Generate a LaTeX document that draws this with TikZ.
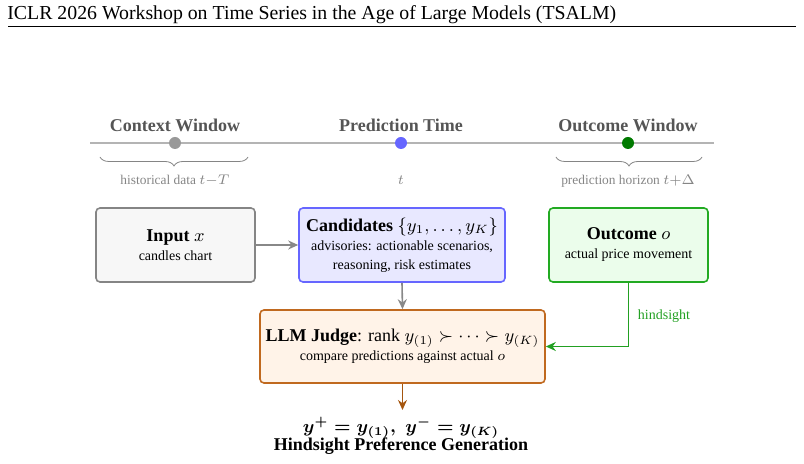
\documentclass[tikz,border=0pt]{standalone}
\usepackage{fontspec}
\setmainfont{Liberation Serif}
\usetikzlibrary{arrows.meta,decorations.pathreplacing,calc}
\definecolor{tlgray}{HTML}{B4B4B4}
\definecolor{lblgray}{HTML}{555555}
\definecolor{smgray}{HTML}{858585}
\definecolor{dotgray}{HTML}{999999}
\definecolor{dotblue}{HTML}{6666FF}
\definecolor{dotgreen}{HTML}{007A00}
\definecolor{inpfill}{HTML}{F7F7F7}
\definecolor{inpdraw}{HTML}{858585}
\definecolor{candfill}{HTML}{E8E8FF}
\definecolor{canddraw}{HTML}{6666FF}
\definecolor{outfill}{HTML}{EBFDEB}
\definecolor{outdraw}{HTML}{22AA22}
\definecolor{judfill}{HTML}{FFF3E8}
\definecolor{juddraw}{HTML}{C0691F}
\definecolor{arrgray}{HTML}{888888}
\definecolor{arrgreen}{HTML}{22A022}
\definecolor{arrbrown}{HTML}{A5560F}
\newcommand{\mytitle}{\fontsize{9}{11}\selectfont\bfseries}
\newcommand{\mybig}{\fontsize{9}{11}\selectfont}
\newcommand{\resmath}{{\boldmath$y^{+}=y_{(1)},\;y^{-}=y_{(K)}$}}
\begin{document}
\begin{tikzpicture}[x=0.5pt,y=-0.5pt,
  box/.style={draw, rounded corners=2pt, line width=0.8pt, align=center,
    inner sep=2pt, font=\fontsize{7}{9.5}\selectfont},
  tllabel/.style={anchor=base, font=\fontsize{9}{11}\selectfont\bfseries, text=lblgray},
  smlabel/.style={anchor=base, font=\fontsize{6.7}{8.5}\selectfont, text=smgray},
  dot/.style={circle, inner sep=0pt, minimum size=6pt},
  brc/.style={draw=smgray, line width=0.4pt, decorate, decoration={brace, mirror, amplitude=4.5pt}},
  arr/.style={line width=0.8pt, -{Stealth[length=5pt,width=4.5pt]}}
]
\useasboundingbox (0,0) rectangle (804,464);

% header
\node[anchor=base west, inner sep=0pt, font=\fontsize{9.9}{12}\selectfont] (hdr) at (7,20)
  {ICLR 2026 Workshop on Time Series in the Age of Large Models (TSALM)};
\coordinate (rl) at (8,27);
\coordinate (rr) at (796,27);
\draw[line width=0.5pt] (rl) -- (rr);

% timeline
\coordinate (tl0) at (90,143);
\coordinate (tl1) at (714,143);
\draw[tlgray, line width=1.4pt] (tl0) -- (tl1);
\node[dot, fill=dotgray] (d1) at (175,143) {};
\node[dot, fill=dotblue] (d2) at (401,143) {};
\node[dot, fill=dotgreen] (d3) at (628,143) {};
\node[tllabel] (l1) at (175,132) {Context Window};
\node[tllabel] (l2) at (401,132) {Prediction Time};
\node[tllabel] (l3) at (628,132) {Outcome Window};
\coordinate (b1a) at (100,157);
\coordinate (b1b) at (248,157);
\coordinate (b3a) at (556,157);
\coordinate (b3b) at (702,157);
\draw[brc] (b1a) -- (b1b);
\draw[brc] (b3a) -- (b3b);
\node[smlabel] (s1) at (175,185) {historical data $t{-}T$};
\node[smlabel] (s2) at (401,185) {$t$};
\node[smlabel] (s3) at (628,185) {prediction horizon $t{+}\Delta$};

% boxes
\node[box, fill=inpfill, draw=inpdraw, minimum width=79.5pt, minimum height=37pt] (inp) at (175.5,245)
  {{\mytitle Input $x$}\\ candles chart};
\node[box, fill=candfill, draw=canddraw, minimum width=103pt, minimum height=37pt] (cand) at (402,245)
  {{\mytitle Candidates $\{y_1,\ldots,y_K\}$}\\ advisories: actionable scenarios,\\ reasoning, risk estimates};
\node[box, fill=outfill, draw=outdraw, minimum width=79.5pt, minimum height=37pt] (out) at (628.5,245)
  {{\mytitle Outcome $o$}\\ actual price movement};
\node[box, fill=judfill, draw=juddraw, minimum width=142.5pt, minimum height=36.5pt] (jud) at (402.5,346.5)
  {{\mytitle LLM Judge}{\mybig: rank $y_{(1)}\succ\cdots\succ y_{(K)}$}\\ compare predictions against actual $o$};

% arrows
\draw[arr, arrgray] (inp.east) -- (cand.west);
\draw[arr, arrgray] (cand.south) -- (jud.north);
\draw[arr, arrgreen] (out.south) |- (jud.east)
  node[pos=0.26, right, xshift=1pt, text=arrgreen, font=\fontsize{7}{9}\selectfont] (hs) {hindsight};
\coordinate (resend) at (402.5,410);
\draw[arr, arrbrown] (jud.south) -- (resend);

% result
\node[anchor=base, font=\mybig, inner sep=0pt] (resa) at (401,433) {\resmath};
\node[anchor=base, font=\mytitle, inner sep=0pt] (resb) at (401,451) {Hindsight Preference Generation};
\end{tikzpicture}
\end{document}
